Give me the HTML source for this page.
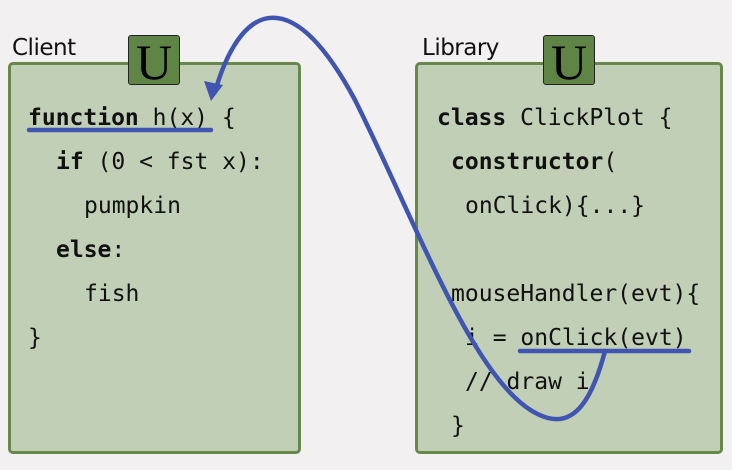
<!DOCTYPE html>
<html><head><style>
body{margin:0;width:732px;height:470px;background:#f2f0f1;position:relative;overflow:hidden}
.box{position:absolute;background:#c1cfb6;border:3px solid #66884a;border-radius:5px;box-sizing:border-box}
.u{position:absolute;width:52px;height:50px;background:#5f8546;border:1.5px solid #222;border-radius:3px;box-sizing:border-box;font-family:"Liberation Serif",serif;font-size:50px;line-height:52px;text-align:center;color:#000}
.lbl{position:absolute;font-family:"DejaVu Sans","Liberation Sans",sans-serif;font-size:23px;color:#111;font-weight:normal;letter-spacing:-0.5px}
.c{position:absolute;font-family:"DejaVu Sans Mono","Liberation Mono",monospace;font-size:23px;color:#111;white-space:pre;line-height:26px}
b{font-weight:bold}
</style></head><body>
<div class="lbl" style="left:12px;top:35px">Client</div>
<div class="lbl" style="left:422px;top:35px">Library</div>
<div class="box" style="left:8px;top:62px;width:293px;height:392px"></div>
<div class="box" style="left:415px;top:62px;width:308px;height:392px"></div>
<div class="u" style="left:128px;top:35px">U</div>
<div class="u" style="left:543px;top:35px">U</div>
<div class="c" style="left:28px;top:105px"><b>function</b> h(x) {</div>
<div class="c" style="left:56px;top:149px"><b>if</b> (0 &lt; fst x):</div>
<div class="c" style="left:84px;top:193px">pumpkin</div>
<div class="c" style="left:56px;top:237px"><b>else</b>:</div>
<div class="c" style="left:84px;top:281px">fish</div>
<div class="c" style="left:28px;top:325px">}</div>
<div class="c" style="left:437px;top:105px"><b>class</b> ClickPlot {</div>
<div class="c" style="left:451px;top:149px"><b>constructor</b>(</div>
<div class="c" style="left:465px;top:193px">onClick){...}</div>
<div class="c" style="left:451px;top:281px">mouseHandler(evt){</div>
<div class="c" style="left:465px;top:325px">i = onClick(evt)</div>
<div class="c" style="left:465px;top:369px">// draw i</div>
<div class="c" style="left:451px;top:413px">}</div>
<svg width="732" height="470" style="position:absolute;left:0;top:0">
<g stroke="#3f55b0" stroke-width="4.5" fill="none" stroke-linecap="round">
<line x1="29" y1="130" x2="211" y2="130"/>
<line x1="520" y1="351" x2="689" y2="351"/>
<path d="M605,351 C592,400 575,425 548,418 C480,400 420,230 355,100 C320,35 290,12 264,19 C240,26 224,60 215,92"/>
</g>
<polygon points="211,101 204,81 223,85" fill="#3f55b0"/>
</svg>
</body></html>
